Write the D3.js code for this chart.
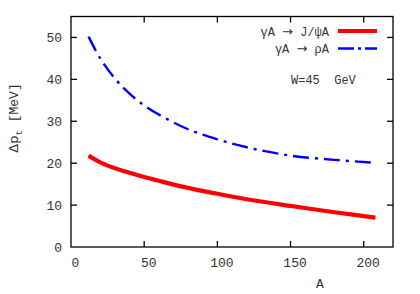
<!DOCTYPE html>
<html>
<head>
<meta charset="utf-8">
<script src="https://cdn.jsdelivr.net/npm/d3@7"></script>
<style>
  body { margin: 0; background: #fff; }
  text { font-family: "Liberation Mono", "DejaVu Sans Mono", monospace; fill: #333; white-space: pre; }
</style>
</head>
<body>
<svg width="420" height="294"></svg>
<script>
// nucleus mass number A
var massA = [12, 20, 30, 40, 50, 60, 80, 100, 120, 150, 180, 208];
// Delta p_t [MeV] for gamma A -> J/psi A
var jpsiVals = [21.8, 20.2, 18.8, 17.7, 16.7, 15.8, 14.1, 12.7, 11.4, 9.8, 8.3, 7.0];
// Delta p_t [MeV] for gamma A -> rho A
var rhoVals = [50.2, 45.0, 40.2, 36.6, 33.8, 31.6, 28.1, 25.7, 23.8, 21.8, 20.8, 20.1];
var xTicks = [0, 50, 100, 150, 200];
var yTicks = [0, 10, 20, 30, 40, 50];

var svg = d3.select("svg"),
    width = +svg.attr("width"),
    height = +svg.attr("height");

var margin = {top: 16.5, right: 27, bottom: 47, left: 71};

var x = d3.scaleLinear().domain([0, 220])
    .range([margin.left, width - margin.right]);
var y = d3.scaleLinear().domain([0, 55])
    .range([height - margin.bottom, margin.top]);

var tickLen = 6;

// frame
svg.append("rect")
    .attr("x", x(0)).attr("y", y(55))
    .attr("width", x(220) - x(0)).attr("height", y(0) - y(55))
    .attr("fill", "none").attr("stroke", "#000").attr("stroke-width", 1.3);

// ticks (mirrored, pointing inward)
var g = svg.append("g").attr("stroke", "#000").attr("stroke-width", 1.3);
xTicks.forEach(function(t) {
  if (t == 0) return;
  g.append("line").attr("x1", x(t)).attr("x2", x(t)).attr("y1", y(0)).attr("y2", y(0) - tickLen);
  g.append("line").attr("x1", x(t)).attr("x2", x(t)).attr("y1", y(55)).attr("y2", y(55) + tickLen);
});
yTicks.forEach(function(t) {
  if (t == 0) return;
  g.append("line").attr("x1", x(0)).attr("x2", x(0) + tickLen).attr("y1", y(t)).attr("y2", y(t));
  g.append("line").attr("x1", x(220)).attr("x2", x(220) - tickLen).attr("y1", y(t)).attr("y2", y(t));
});

// tick labels
svg.selectAll(".xl").data(xTicks).enter().append("text")
    .attr("class", "xl")
    .attr("x", function(d) { return x(d) + 4.5; })
    .attr("y", y(0) + 20)
    .attr("text-anchor", "middle")
    .style("font-size", "13px")
    .text(function(d) { return d; });

svg.selectAll(".yl").data(yTicks).enter().append("text")
    .attr("class", "yl")
    .attr("x", x(0) - 9)
    .attr("y", function(d) { return y(d) + 4.5; })
    .attr("text-anchor", "end")
    .style("font-size", "13px")
    .text(function(d) { return d; });

// axis titles
svg.append("text")
    .attr("x", 320).attr("y", 288)
    .attr("text-anchor", "middle")
    .style("font-size", "13px")
    .text("A");

var yt = svg.append("text")
    .attr("transform", "translate(18,118) rotate(-90)")
    .attr("text-anchor", "middle")
    .style("font-size", "13px");
yt.append("tspan").style("font-family", "DejaVu Sans").text("\u0394p");
yt.append("tspan").attr("dy", 4).style("font-size", "9px").text("t");
yt.append("tspan").attr("dy", -4).text(" [MeV]");

// curves
var line = d3.line()
    .x(function(d) { return x(d[0]); })
    .y(function(d) { return y(d[1]); })
    .curve(d3.curveCatmullRom);

var rhoPts = massA.map(function(a, i) { return [a, rhoVals[i]]; });
var jpsiPts = massA.map(function(a, i) { return [a, jpsiVals[i]]; });

svg.append("path")
    .datum(rhoPts)
    .attr("d", line)
    .attr("fill", "none")
    .attr("stroke", "#0000ff")
    .attr("stroke-width", 2.4)
    .attr("stroke-dasharray", "16,6,3,6");

svg.append("path")
    .datum(jpsiPts)
    .attr("d", line)
    .attr("fill", "none")
    .attr("stroke", "#ff0000")
    .attr("stroke-width", 4.2);

// legend
var legend = [
  {pre: "\u03b3A", post: "J/\u03c8A", color: "#ff0000", w: 4.2, dash: null, y: 31},
  {pre: "\u03b3A", post: "\u03c1A", color: "#0000ff", w: 2.4, dash: "16,4,3,4", y: 48.5}
];
legend.forEach(function(l) {
  var t = svg.append("text")
      .attr("x", 329).attr("y", l.y + 4.5)
      .attr("text-anchor", "end")
      .style("font-size", "12px");
  t.append("tspan").text(l.pre + " ");
  t.append("tspan").style("font-family", "DejaVu Sans").style("font-size", "13px").text("\u2192");
  t.append("tspan").text(" " + l.post);
  svg.append("line")
      .attr("x1", 338).attr("x2", 377)
      .attr("y1", l.y).attr("y2", l.y)
      .attr("stroke", l.color)
      .attr("stroke-width", l.w)
      .attr("stroke-dasharray", l.dash);
});

svg.append("text")
    .attr("x", 291).attr("y", 84)
    .style("font-size", "12px")
    .text("W=45  GeV");
</script>
</body>
</html>
